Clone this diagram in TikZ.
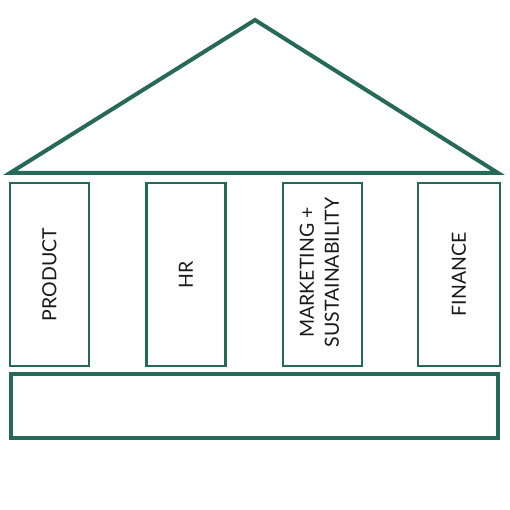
\documentclass[tikz,border=0pt]{standalone}
\usepackage{fontspec}
\setmainfont{Lato}
\definecolor{pgreen}{RGB}{37,105,88}
\begin{document}
\begin{tikzpicture}[x=1pt,y=-1pt,
  roof/.style={draw=pgreen,line width=4pt,line join=miter},
  pillar/.style={draw=pgreen,line width=2.2pt,minimum width=79pt,minimum height=183pt,inner sep=0pt},
  plabel/.style={rotate=90,font=\fontsize{19.5}{25}\selectfont,align=center,text=black!90}]
\useasboundingbox (0,0) rectangle (510,510);
\coordinate (rl) at (10,173);
\coordinate (ra) at (255,20);
\coordinate (rr) at (498,173);
\draw[roof] (rl) -- (ra) -- (rr) -- cycle;
\node[pillar] (p1) at (49.5,274.5) {};
\node[pillar] (p2) at (186,274.5) {};
\node[pillar] (p3) at (322.5,274.5) {};
\node[pillar,minimum width=82pt] (p4) at (459,274.5) {};
\node[plabel] (t1) at (p1) {PRODUCT};
\node[plabel] (t2) at (p2) {HR};
\node[plabel] (t3) at ([xshift=-3,yshift=2]p3.center) {MARKETING +\\SUSTAINABILITY};
\node[plabel] (t4) at (p4) {FINANCE};
\node[draw=pgreen,line width=4pt,minimum width=487pt,minimum height=64pt,inner sep=0pt] (base) at (254,405.5) {};
\end{tikzpicture}
\end{document}
